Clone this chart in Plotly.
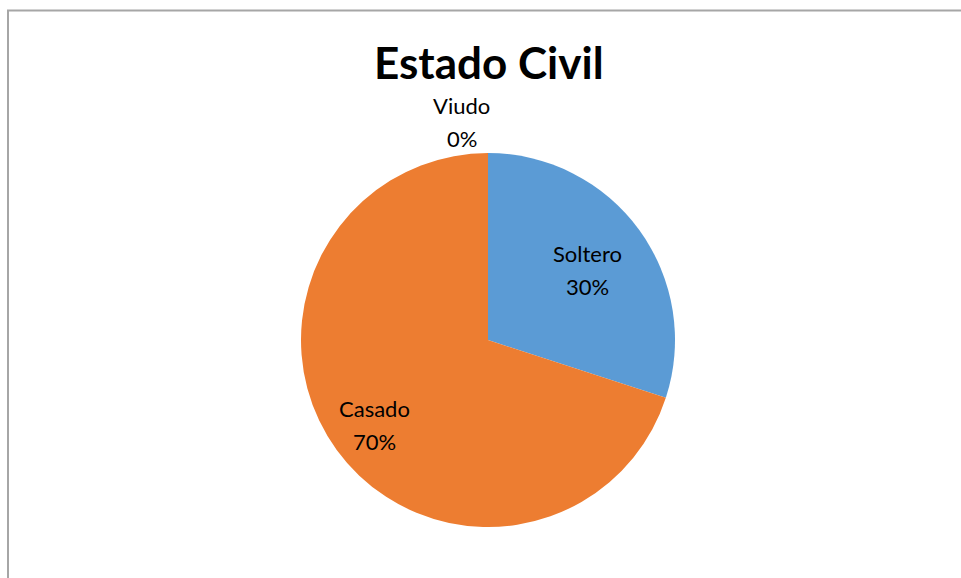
import math
import plotly.graph_objects as go

# Data
categories = ["Soltero", "Casado", "Viudo"]
values = [30, 70, 0]
colors = ["#5B9BD5", "#ED7D31", "#A5A5A5"]
title_text = "Estado Civil"

# Layout constants (pixels)
W, H = 961, 578
cx, cy, R = 488, 340, 187
label_radius = {"Soltero": 0.66, "Casado": 0.75, "Viudo": 1.16}
label_shift = {"Soltero": 0, "Casado": 0, "Viudo": -26}
label_vshift = {"Soltero": 3, "Casado": 3, "Viudo": -1}
line_gap = 33
font_family = "Lato, Open Sans, sans-serif"

fig = go.Figure()
fig.add_trace(go.Pie(
    labels=categories,
    values=values,
    marker=dict(colors=colors, line=dict(width=0)),
    sort=False,
    direction="clockwise",
    rotation=0,
    textinfo="none",
    hoverinfo="label+percent",
    showlegend=False,
    domain=dict(x=[(cx - R) / W, (cx + R) / W], y=[1 - (cy + R) / H, 1 - (cy - R) / H]),
))

total = sum(values)
annotations = []
cum = 0
for cat, v in zip(categories, values):
    mid = (cum + v / 2) / total * 2 * math.pi
    cum += v
    r = R * label_radius[cat]
    px = cx + r * math.sin(mid) + label_shift[cat]
    py = cy - r * math.cos(mid) + label_vshift[cat]
    pct = round(v / total * 100)
    for txt, dy in ((cat, -line_gap / 2), (f"{pct}%", line_gap / 2)):
        annotations.append(dict(
            x=px / W, y=1 - (py + dy) / H, xref="paper", yref="paper",
            text=txt, showarrow=False,
            font=dict(family=font_family, size=22, color="#000000"),
            align="center", xanchor="center", yanchor="middle",
        ))

annotations.append(dict(
    x=489 / W, y=1 - 62 / H, xref="paper", yref="paper",
    text=f"<b>{title_text}</b>", showarrow=False,
    font=dict(family=font_family, size=44, color="#000000"),
    xanchor="center", yanchor="middle",
))

fig.update_layout(
    width=W, height=H,
    margin=dict(l=0, r=0, t=0, b=0),
    paper_bgcolor="white",
    plot_bgcolor="white",
    annotations=annotations,
    shapes=[dict(
        type="rect", xref="paper", yref="paper",
        x0=8 / W, x1=1.02, y0=-0.02, y1=1 - 10.5 / H,
        line=dict(color="#A6A6A6", width=2), fillcolor="rgba(0,0,0,0)",
    )],
)

fig.write_html("out.html")
